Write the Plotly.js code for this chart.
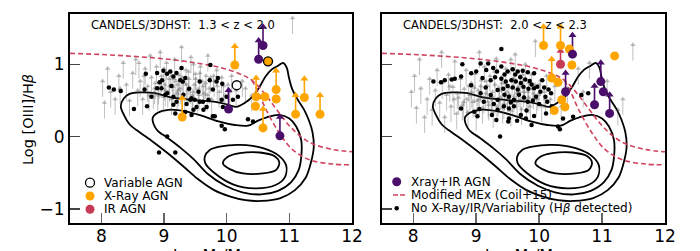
<!DOCTYPE html>
<html><head><meta charset="utf-8">
<script src="https://cdn.plot.ly/plotly-3.0.1.min.js"></script>
<style>html,body{margin:0;padding:0;background:#fff;}#chart{width:700px;height:251px;}</style>
</head><body><div id="chart"></div>
<script>
// ---------- DATA ----------
const xTicks = [8, 9, 10, 11, 12];
const yTicks = [-1, 0, 1];
const yTickText = ['\u22121', '0', '1'];
const panelTitles = ['CANDELS/3DHST:  1.3 < z < 2.0', 'CANDELS/3DHST:  2.0 < z < 2.3'];
const legendLeft = ['Variable AGN', 'X-Ray AGN', 'IR AGN'];
const legendRight = ['Xray+IR AGN', 'Modified MEx (Coil+15)', 'No X-Ray/IR/Variability (H<i>\u03b2</i> detected)'];

// local-galaxy density contours (same in both panels)
const c1x = [8.31,8.36,8.45,8.62,8.86,9.07,9.30,9.55,9.82,10.03,10.15,10.28,10.42,10.52,10.62,10.72,10.82,10.90,10.96,10.99,11.04,11.12,11.23,11.31,11.37,11.39,11.35,11.26,11.09,10.86,10.56,10.30,10.06,9.80,9.53,9.32,9.06,8.79,8.56,8.45,8.36,8.31];
const c1y = [0.42,0.53,0.59,0.61,0.60,0.55,0.52,0.50,0.48,0.44,0.41,0.46,0.56,0.68,0.83,0.93,0.98,1.02,0.95,0.83,0.67,0.53,0.38,0.23,0.06,-0.14,-0.34,-0.57,-0.74,-0.85,-0.89,-0.88,-0.83,-0.74,-0.58,-0.42,-0.23,-0.05,0.09,0.17,0.30,0.42];
const c2x = [8.82,8.90,9.07,9.34,9.60,9.87,10.13,10.34,10.50,10.65,10.84,11.00,11.11,11.19,11.19,11.15,11.03,10.82,10.55,10.25,9.98,9.69,9.48,9.27,9.06,8.90,8.84,8.82];
const c2y = [0.26,0.33,0.37,0.35,0.29,0.21,0.16,0.15,0.22,0.27,0.30,0.25,0.14,-0.05,-0.28,-0.46,-0.63,-0.75,-0.80,-0.77,-0.68,-0.51,-0.32,-0.16,-0.02,0.08,0.16,0.26];
const c3x = [9.65,9.73,9.89,10.21,10.58,10.84,10.95,10.93,10.78,10.45,10.10,9.80,9.66,9.65];
const c3y = [-0.28,-0.185,-0.14,-0.116,-0.16,-0.27,-0.40,-0.56,-0.67,-0.715,-0.66,-0.50,-0.37,-0.28];
const c4x = [9.94,10.02,10.21,10.53,10.76,10.84,10.79,10.58,10.26,10.05,9.94];
const c4y = [-0.37,-0.28,-0.23,-0.22,-0.27,-0.36,-0.46,-0.51,-0.51,-0.45,-0.37];

// Modified MEx demarcation (Coil+15)
const mexUpX = [7.5,8.0,8.5,9.0,9.5,9.9,10.2,10.4,10.6,10.8,11.0,11.2,11.4,11.7,12.0];
const mexUpY = [1.15,1.135,1.11,1.075,1.02,0.955,0.87,0.78,0.60,0.37,0.15,-0.01,-0.11,-0.18,-0.21];
const mexLoX = [10.4,10.5,10.63,10.84,11.05,11.32,11.69,12.0];
const mexLoY = [0.78,0.62,0.37,0.05,-0.18,-0.32,-0.38,-0.39];

// ---- panel 1 (1.3<z<2.0) ----
const dotsLx = [8.12,8.20,8.31,8.52,8.69,8.71,8.73,8.89,8.93,8.89,8.99,9.05,9.10,9.15,9.20,9.26,9.30,9.34,9.28,8.97,9.05,9.15,9.31,9.44,9.49,9.57,9.52,9.68,9.47,9.34,9.44,9.15,9.18,9.81,9.57,9.73,9.86,9.84,9.78,9.74,9.92,10.0,10.10,10.18,9.94,10.34,10.42,9.05,8.92,9.18,9.92,9.97,8.96,9.02,9.20,9.42,9.63,9.71,9.93,9.78,9.62,9.40,9.55,8.80,9.12,9.36];
const dotsLy = [0.68,0.65,0.63,0.38,0.65,0.87,0.42,0.88,0.75,0.67,0.91,0.87,0.90,0.83,0.88,0.78,0.76,0.81,0.95,0.78,0.60,0.55,0.58,0.53,0.51,0.48,0.41,0.41,0.37,0.34,0.30,0.44,0.32,0.28,0.76,0.78,0.81,0.76,0.65,0.99,0.51,0.55,0.51,0.55,0.41,0.24,0.21,0.00,-0.22,-0.22,0.15,0.10,0.67,0.58,0.48,0.51,0.37,0.51,0.73,0.28,0.48,0.66,0.62,0.55,0.70,0.45];
const limLx = [8.02,8.05,8.10,8.15,8.22,8.28,8.35,8.40,8.45,8.50,8.55,8.58,8.62,8.66,8.70,8.74,8.78,8.80,8.83,8.86,8.88,8.91,8.94,8.96,8.99,9.01,9.04,9.06,9.08,9.10,9.12,9.14,9.17,9.19,9.21,9.24,9.26,9.28,9.31,9.33,9.35,9.38,9.40,9.43,9.45,9.48,9.50,9.53,9.55,9.58,9.61,9.64,9.67,9.70,9.72,9.76,9.80,9.84,9.88,9.92,9.97,10.02,10.08,10.15,10.25,10.40,11.05,8.92,9.02,9.22,9.46,9.66,
  8.85,8.95,9.03,9.09,9.16,9.23,9.29,9.36,9.42,9.51,9.57,9.63,9.74,9.85,8.90,9.00,9.13,9.27,9.39,9.56,9.69,9.79,8.68,8.76,9.95,10.05,10.30,8.30,8.60,9.47];
const limLy = [0.55,0.25,0.72,0.40,0.30,0.62,0.80,0.50,0.28,0.66,0.85,0.42,0.55,0.30,0.72,0.48,0.90,0.60,0.38,0.52,0.75,0.44,0.95,0.62,0.33,0.50,0.80,0.40,0.58,0.68,0.30,0.47,0.85,0.55,0.38,0.63,0.45,1.02,0.52,0.30,0.70,0.42,0.58,0.88,0.35,0.50,0.65,0.28,0.44,0.75,0.55,0.38,0.62,0.90,0.45,0.30,0.55,0.70,0.40,0.60,0.35,0.50,0.62,0.42,0.55,0.35,1.42,0.52,0.42,0.50,0.40,0.52,
  0.45,0.55,0.65,0.48,0.58,0.42,0.60,0.50,0.45,0.58,0.66,0.48,0.60,0.48,0.35,0.72,0.62,0.72,0.68,0.36,0.36,0.62,0.62,0.35,0.48,0.40,0.45,0.45,0.80,0.78];
const xrayLx = [10.13,9.29,10.47,10.46,10.61,10.79,10.79,10.58,11.10,11.24,11.49];
const xrayLy = [0.99,0.27,0.55,0.42,0.55,0.65,0.52,0.12,0.31,0.54,0.31];
const xrayLup = [1,1,1,0,0,1,0,1,1,1,1];
const bothLx = [10.03,10.51,10.58,10.85];
const bothLy = [0.38,1.07,1.26,0.01];
const bothLup = [1,1,1,1];
const varLx = [10.16];
const varLy = [0.71];
const varXrayLx = [10.66];
const varXrayLy = [1.04];

// ---- panel 2 (2.0<z<2.3) ----
const dotsRx = [8.32,8.44,8.61,8.66,8.76,8.78,8.92,9.07,9.19,9.27,9.33,9.40,9.50,9.58,9.66,9.74,9.82,9.92,9.10,9.23,9.30,9.40,9.47,9.56,9.63,9.71,9.78,9.85,9.97,10.08,10.15,10.19,9.34,9.43,9.50,9.58,9.66,9.75,9.83,9.92,9.95,10.02,8.92,9.07,9.15,9.23,9.34,9.45,9.52,9.60,9.68,9.76,9.82,9.90,10.0,10.13,8.76,8.97,9.05,9.34,9.44,9.52,9.60,9.71,9.80,9.92,10.11,10.24,9.79,9.52,9.40,9.32,9.51,9.88,10.33,9.38,10.67,10.78,10.30,10.54,9.12,9.28,9.00,9.62,9.70,9.88,10.05,10.10,9.55,9.45,9.16,8.50,10.20,10.38,9.02,9.25,9.65];
const dotsRy = [0.76,0.75,0.79,0.80,0.83,1.00,0.875,1.01,1.01,0.95,0.90,0.97,0.90,0.93,0.90,0.91,0.89,0.875,0.81,0.78,0.82,0.80,0.76,0.78,0.76,0.74,0.79,0.77,0.69,0.68,0.65,0.60,0.645,0.66,0.70,0.68,0.65,0.69,0.66,0.67,0.55,0.62,0.71,0.60,0.68,0.575,0.51,0.58,0.55,0.51,0.58,0.54,0.48,0.50,0.45,0.48,0.39,0.345,0.38,0.37,0.42,0.39,0.42,0.30,0.36,0.285,0.32,0.345,0.25,0.25,1.21,0.23,0.21,0.16,0.10,0.00,0.575,0.60,0.14,0.275,0.48,0.45,0.90,0.86,0.82,0.72,0.78,0.55,0.47,0.86,0.92,0.78,0.42,0.25,0.28,0.30,0.22];
const limRx = [7.97,8.02,8.05,8.12,8.18,8.22,8.26,8.30,8.35,8.38,8.42,8.46,8.50,8.53,8.56,8.60,8.63,8.66,8.69,8.72,8.75,8.78,8.81,8.84,8.87,8.90,8.92,8.95,8.98,9.00,9.03,9.05,9.08,9.10,9.13,9.15,9.18,9.20,9.22,9.25,9.27,9.30,9.32,9.35,9.37,9.40,9.42,9.45,9.47,9.50,9.52,9.55,9.57,9.60,9.62,9.65,9.67,9.70,9.72,9.75,9.78,9.80,9.83,9.86,9.88,9.91,9.94,9.96,10.00,10.04,10.08,10.12,10.18,10.25,10.35,10.62,10.80,11.08,11.33,11.49,8.10,8.45,9.05,9.55,10.45,10.70,11.25,
  8.85,8.93,9.01,9.12,9.19,9.26,9.33,9.39,9.44,9.49,9.58,9.64,9.71,9.77,9.84,9.90,9.98,8.70,8.80,8.97,9.07,9.16,9.24,9.36,9.46,9.53,9.61,9.68,9.76,9.82,9.93,10.02,10.10,8.58,8.65,8.88,9.29,9.41,9.59,9.74];
const limRy = [0.40,0.62,0.18,0.45,0.05,0.30,0.58,0.15,0.42,0.70,0.25,0.52,0.05,0.36,0.64,0.20,0.47,0.82,0.10,0.32,0.58,0.22,0.44,0.70,0.12,0.36,0.52,0.26,0.65,0.08,0.42,0.30,0.56,0.18,0.75,0.38,0.48,0.22,0.62,0.34,0.12,0.50,0.86,0.28,0.42,0.60,0.18,0.36,0.72,0.30,0.46,0.14,0.58,0.34,0.92,0.26,0.48,0.62,0.16,0.40,0.78,0.28,0.52,0.20,0.64,0.38,1.10,0.30,0.50,0.20,0.40,0.62,0.30,0.48,0.20,0.72,0.80,0.55,0.30,1.05,0.85,0.95,0.95,0.85,0.45,0.40,0.15,
  0.30,0.40,0.28,0.32,0.26,0.40,0.20,0.32,0.24,0.40,0.26,0.38,0.30,0.46,0.32,0.44,0.36,0.38,0.26,0.46,0.48,0.55,0.30,0.46,0.52,0.36,0.58,0.40,0.56,0.40,0.50,0.56,0.30,0.48,0.30,0.48,0.68,0.52,0.70,0.64];
const xrayRx = [10.07,10.34,10.48,10.52,11.20,10.20,10.30,10.36,10.41,10.24];
const xrayRy = [1.26,1.26,1.21,0.99,1.115,0.81,0.75,0.51,0.41,0.36];
const xrayRup = [1,1,0,0,0,1,0,0,0,0];
const irRx = [10.34];
const irRy = [1.00];
const irRup = [1];
const bothRx = [10.53,10.42,10.98,11.02,10.88,11.12];
const bothRy = [1.14,0.62,0.76,0.62,0.44,0.32];
const bothRup = [1,1,1,0,1,1];

// ---------- STYLE ----------
const ORANGE = '#ffa500', PURPLE = '#4a0f6b', CRIMSON = '#c73a55', MEX = '#d0435e';
const GREY = 'rgba(70,70,70,0.34)';
const FONT = 'DejaVu Sans, sans-serif';
const LIM_LEN = 0.22, AGN_LEN = 0.26;

function contourTraces(xa, ya) {
  return [[c1x,c1y],[c2x,c2y],[c3x,c3y],[c4x,c4y]].map(([x,y]) => ({
    type:'scatter', mode:'lines', x, y, xaxis:xa, yaxis:ya,
    line:{color:'#000', width:1.8, shape:'spline', smoothing:0.9}, hoverinfo:'skip', showlegend:false}));
}
function mexTraces(xa, ya) {
  return [[mexUpX,mexUpY],[mexLoX,mexLoY]].map(([x,y]) => ({
    type:'scatter', mode:'lines', x, y, xaxis:xa, yaxis:ya,
    line:{color:MEX, width:1.6, dash:'5px,3px', shape:'spline'}, hoverinfo:'skip', showlegend:false}));
}
// upward arrows (lower limits): head placed at value+len, stem drawn as an error bar back to the value
function arrows(xs, ys, ups, len, color, thick, head, xa, ya) {
  const hx = [], hy = [], minus = [], plus = [];
  xs.forEach((x, i) => { if (ups && !ups[i]) return; hx.push(x); hy.push(ys[i] + len); minus.push(len); plus.push(0); });
  return {type:'scatter', mode:'markers', x:hx, y:hy, xaxis:xa, yaxis:ya,
    marker:{symbol:'triangle-up', size:head, color:color, line:{width:0}},
    error_y:{type:'data', symmetric:false, array:plus, arrayminus:minus, width:0, thickness:thick, color:color},
    hoverinfo:'skip', showlegend:false};
}
function pts(xs, ys, color, size, edge, xa, ya) {
  return {type:'scatter', mode:'markers', x:xs, y:ys, xaxis:xa, yaxis:ya,
    marker:{size:size, color:color, line:{width:edge ? 1.3 : 0, color:'#000'}}, hoverinfo:'skip', showlegend:false};
}

const traces = [
  ...contourTraces('x','y'), ...mexTraces('x','y'),
  arrows(limLx, limLy, null, LIM_LEN, GREY, 1, 5, 'x','y'),
  pts(dotsLx, dotsLy, '#000', 4.5, false, 'x','y'),
  arrows(xrayLx, xrayLy, xrayLup, AGN_LEN, ORANGE, 1.6, 7, 'x','y'),
  arrows(bothLx, bothLy, bothLup, AGN_LEN, PURPLE, 1.6, 7, 'x','y'),
  pts(xrayLx, xrayLy, ORANGE, 9, false, 'x','y'),
  pts(bothLx, bothLy, PURPLE, 9, false, 'x','y'),
  pts(varLx, varLy, '#fff', 9, true, 'x','y'),
  pts(varXrayLx, varXrayLy, ORANGE, 9, true, 'x','y'),

  ...contourTraces('x2','y2'), ...mexTraces('x2','y2'),
  arrows(limRx, limRy, null, LIM_LEN, GREY, 1, 5, 'x2','y2'),
  pts(dotsRx, dotsRy, '#000', 4.5, false, 'x2','y2'),
  arrows(xrayRx, xrayRy, xrayRup, AGN_LEN, ORANGE, 1.6, 7, 'x2','y2'),
  arrows(irRx, irRy, irRup, AGN_LEN*0.7, CRIMSON, 1.6, 7, 'x2','y2'),
  arrows(bothRx, bothRy, bothRup, AGN_LEN, PURPLE, 1.6, 7, 'x2','y2'),
  pts(xrayRx, xrayRy, ORANGE, 9, false, 'x2','y2'),
  pts(irRx, irRy, CRIMSON, 9, false, 'x2','y2'),
  pts(bothRx, bothRy, PURPLE, 9, false, 'x2','y2')
];

const W = 700, H = 251;
const px = v => v / W, py = v => 1 - v / H;
const yDom = [py(223), py(14)];

function xAxis(dom, anchor) {
  return {domain:dom, anchor:anchor, range:[7.5,12], tickvals:xTicks, ticks:'inside', ticklen:10, tickwidth:1.5,
    tickcolor:'#666', showline:true, linewidth:2, linecolor:'#000', mirror:true, showgrid:false, zeroline:false,
    ticklabelstandoff:-3, tickfont:{family:FONT, size:17, color:'#000'}};
}
function yAxis(anchor, labels) {
  return {domain:yDom, anchor:anchor, range:[-1.195,1.695], tickvals:yTicks, ticktext:yTickText, ticks:'inside',
    ticklen:10, tickwidth:1.5, tickcolor:'#444', showline:true, linewidth:2, linecolor:'#000', mirror:true,
    showgrid:false, zeroline:false, showticklabels:labels, tickfont:{family:FONT, size:17, color:'#000'}};
}

const ann = [];
const txt = (text, x, y, size, extra) => ann.push(Object.assign({text, x:px(x), y:py(y), xref:'paper', yref:'paper',
  showarrow:false, xanchor:'left', yanchor:'middle', font:{family:FONT, size:size, color:'#000'}}, extra || {}));
txt(panelTitles[0], 89, 25, 11.5);
txt(panelTitles[1], 400.5, 25, 11.5);
[182.7, 196, 209.3].forEach((yy, i) => txt(legendLeft[i], 101.5, yy, 12));
[181.7, 195, 208.3].forEach((yy, i) => txt(legendRight[i], 409, yy, 12));
txt('Log [OIII]/H<i>\u03b2</i>', 28, 120, 14.5, {xanchor:'center', textangle:-90});
txt('log M<sub>*</sub>/M<sub>\u2299</sub>', 211, 243.5, 16, {xanchor:'center', yanchor:'top'});
txt('log M<sub>*</sub>/M<sub>\u2299</sub>', 523, 243.5, 16, {xanchor:'center', yanchor:'top'});

const circ = (cx, cy, r, fill, edge) => ({type:'circle', xref:'paper', yref:'paper', xsizemode:'pixel', ysizemode:'pixel',
  xanchor:px(cx), yanchor:py(cy), x0:-r, x1:r, y0:-r, y1:r, fillcolor:fill, line:{color:edge ? '#000' : fill, width:edge ? 1.3 : 0}});
const shapes = [
  circ(90, 182.7, 4.5, '#fff', true),
  circ(90, 196, 4.5, ORANGE, false),
  circ(90, 209.3, 4.5, CRIMSON, false),
  circ(396.7, 181.7, 4.5, PURPLE, false),
  {type:'line', xref:'paper', yref:'paper', x0:px(393), x1:px(405), y0:py(195), y1:py(195), line:{color:MEX, width:1.6, dash:'5px,2px'}},
  circ(396.7, 208.3, 2.2, '#000', false)
];

const layout = {
  width:W, height:H, margin:{l:0, r:0, t:0, b:0}, paper_bgcolor:'#fff', plot_bgcolor:'#fff', showlegend:false,
  font:{family:FONT},
  xaxis:xAxis([px(70), px(352)], 'y'), yaxis:yAxis('x', true),
  xaxis2:xAxis([px(381.8), px(665)], 'y2'), yaxis2:yAxis('x2', false),
  annotations:ann, shapes:shapes
};
Plotly.newPlot('chart', traces, layout, {staticPlot:true, displayModeBar:false});
</script></body></html>
